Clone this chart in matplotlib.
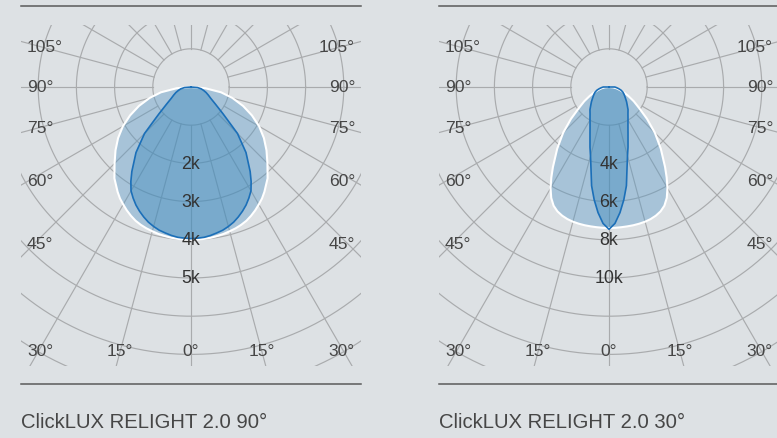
import numpy as np
import matplotlib
matplotlib.use("Agg")
import matplotlib.pyplot as plt
from matplotlib.lines import Line2D

# gamma angles (deg from nadir), one half of each curve, mirrored for the other side
angles = [0, 2.5, 5, 7.5, 10, 12.5, 15, 17.5, 20, 22.5, 25, 27.5, 30, 32.5, 35, 40, 45,
          50, 55, 60, 65, 70, 75, 80, 85, 90]

# ClickLUX RELIGHT 2.0 90°  (kcd)
wide_c0 = [4.00, 4.00, 3.99, 3.98, 3.96, 3.94, 3.91, 3.88, 3.84, 3.79, 3.72, 3.64, 3.55,
           3.46, 3.35, 3.12, 2.83, 2.58, 2.33, 2.06, 1.76, 1.45, 1.13, 0.80, 0.38, 0.0]
wide_c90 = [3.97, 3.96, 3.95, 3.92, 3.88, 3.84, 3.78, 3.71, 3.62, 3.52, 3.41, 3.28, 3.14,
            2.93, 2.70, 2.24, 1.72, 1.10, 0.78, 0.60, 0.50, 0.42, 0.34, 0.27, 0.17, 0.0]

# ClickLUX RELIGHT 2.0 30°  (kcd)
spot_c0 = [7.38, 7.38, 7.37, 7.36, 7.35, 7.33, 7.30, 7.25, 7.17, 7.05, 6.86, 6.55, 6.12,
           5.62, 5.12, 4.22, 3.40, 2.60, 1.93, 1.50, 1.12, 0.82, 0.58, 0.40, 0.22, 0.0]
spot_c90 = [7.45, 7.15, 6.60, 5.95, 5.25, 4.36, 3.74, 3.31, 2.91, 2.60, 2.35, 2.15, 1.99,
            1.85, 1.73, 1.55, 1.35, 1.20, 1.06, 0.95, 0.86, 0.77, 0.66, 0.52, 0.40, 0.30]

titles = ["ClickLUX RELIGHT 2.0 90°", "ClickLUX RELIGHT 2.0 30°"]
ring_steps = [1, 2]
ring_labels = [["2k", "3k", "4k", "5k"], ["4k", "6k", "8k", "10k"]]
angle_ticks = [0, 15, 30, 45, 60, 75, 90, 105]

W, H = 777, 439
BG = "#dde1e4"
GRID = "#a9abad"
TXT = "#464646"
PX = 38.2  # pixels per ring

fig = plt.figure(figsize=(W / 100, H / 100), dpi=100, facecolor=BG)
plt.rcParams["font.family"] = ["Liberation Sans", "DejaVu Sans"]


def curve_xy(vals):
    a = np.radians(np.array(angles))
    r = np.array(vals)
    th = np.concatenate([-a[::-1], a[1:]])
    rr = np.concatenate([r[::-1], r[1:]])
    x = np.concatenate([[0], rr * np.sin(th), [0]])
    y = np.concatenate([[0], -rr * np.cos(th), [0]])
    return x, y


def draw_panel(cx, step, labels, outer, inner, title):
    u = step / PX  # data units per pixel
    ax = fig.add_axes([(cx - 170) / W, (H - 367) / H, 340 / W, 341 / H])
    ax.set_xlim(-170 * u, 170 * u)
    ax.set_ylim(-279 * u, 62 * u)
    ax.axis("off")

    # rings
    t = np.linspace(0, 2 * np.pi, 400)
    for k in range(1, 11):
        ax.plot(k * step * np.cos(t), k * step * np.sin(t), color=GRID, lw=0.85, zorder=1)
    # radial lines from first ring outwards
    for d in range(0, 360, 15):
        a = np.radians(d)
        rr = np.array([step, 12 * step])
        ax.plot(rr * np.sin(a), -rr * np.cos(a), color=GRID, lw=0.85, zorder=1)

    xo, yo = curve_xy(outer)
    xi, yi = curve_xy(inner)
    ax.fill(xo, yo, color="#5898c6", alpha=0.4, lw=0, zorder=2)
    ax.fill(xi, yi, color="#3585ba", alpha=0.4, lw=0, zorder=2)
    ax.plot(xo, yo, color="white", lw=1.5, zorder=3)
    ax.plot(xi, yi, color="#1b6fb8", lw=1.2, zorder=3)

    # ring values
    for k, lab in enumerate(labels, start=2):
        ax.text(0, -k * step, lab, ha="center", va="center", fontsize=12.8,
                color="#333333", zorder=4)

    # angle labels
    for d in angle_ticks:
        a = np.radians(d)
        if d <= 30:
            yp = 264
            xp = 264 * np.tan(a)
        else:
            xp = 151
            yp = 151 / np.tan(a) + (6 if d <= 60 else 0)
        for s in (-1, 1):
            if d == 0 and s == 1:
                continue
            if d < 30:
                x, ha = s * xp, "center"
            else:
                x, ha = s * 164, ("left" if s < 0 else "right")
            ax.text(x * u, -yp * u, f"{d}°", ha=ha, va="center", fontsize=12.6,
                    color=TXT, zorder=4, clip_on=False)

    # rules and caption
    for yy in (7, 385):
        fig.add_artist(Line2D([(cx - 170) / W, min(cx + 170, W) / W],
                              [(H - yy) / H, (H - yy) / H],
                              color="#5a5a5a", lw=1.1))
    fig.text((cx - 170) / W, (H - 423) / H, title, ha="left", va="center",
             fontsize=14.6, color=TXT)


draw_panel(191, ring_steps[0], ring_labels[0], wide_c0, wide_c90, titles[0])
draw_panel(609, ring_steps[1], ring_labels[1], spot_c0, spot_c90, titles[1])

fig.savefig("out.png", dpi=100, facecolor=BG)
